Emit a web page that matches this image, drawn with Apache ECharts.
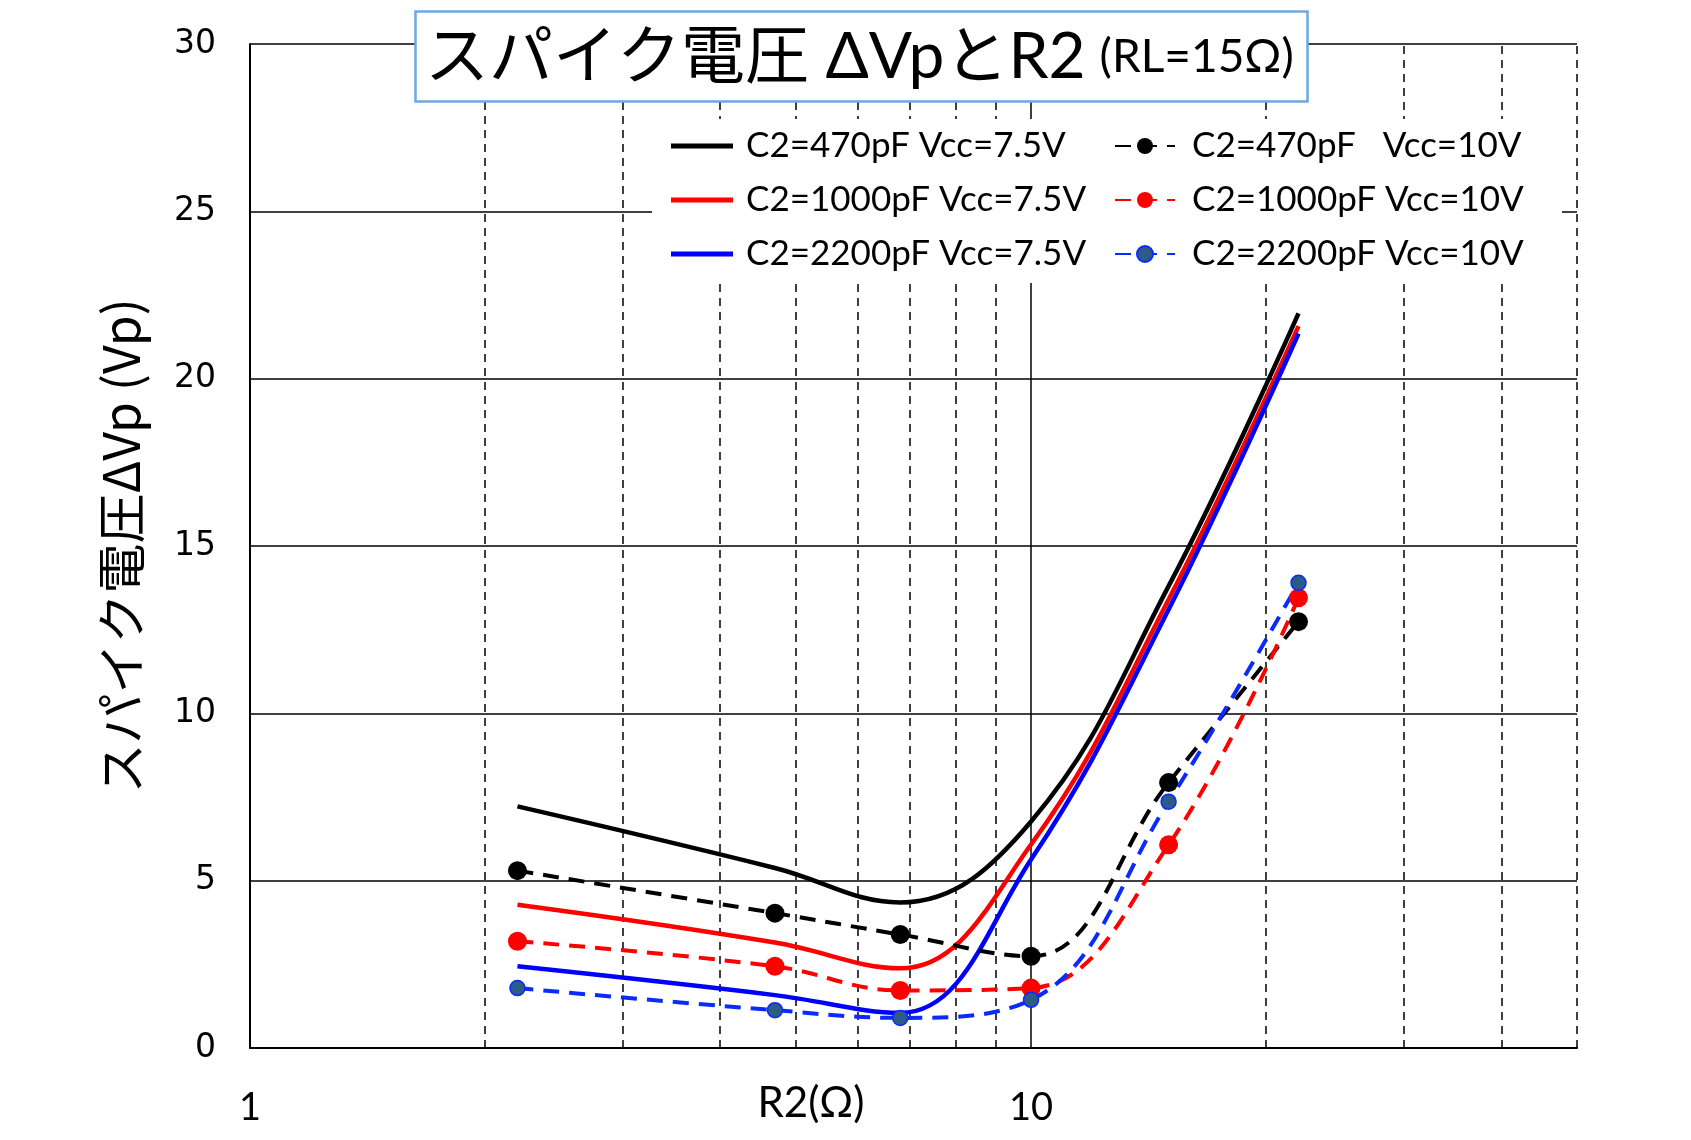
<!DOCTYPE html>
<html><head><meta charset="utf-8">
<script src="https://cdn.jsdelivr.net/npm/echarts@6/dist/echarts.min.js"></script>
<style>html,body{margin:0;padding:0;background:#fff}#c{width:1691px;height:1140px}</style>
</head><body><div id="c"></div>
<script>
// R2 values (Ω), log x axis
const r2Values = [2.2, 4.7, 6.8, 10, 15, 22];
// Spike voltage ΔVp (Vp)
const c470_v75  = [7.22, 5.38, 4.35, 6.77, 13.8, 21.95];
const c1000_v75 = [4.28, 3.15, 2.38, 6.08, 13.4, 21.57];
const c2200_v75 = [2.44, 1.58, 1.05, 5.63, 13.1, 21.35];
const c470_v10  = [5.30, 4.03, 3.39, 2.74, 7.93, 12.74];
const c1000_v10 = [3.19, 2.44, 1.72, 1.79, 6.07, 13.45];
const c2200_v10 = [1.79, 1.13, 0.90, 1.44, 7.36, 13.90];
const names = ['C2=470pF Vcc=7.5V','C2=1000pF Vcc=7.5V','C2=2200pF Vcc=7.5V',
               'C2=470pF   Vcc=10V','C2=1000pF Vcc=10V','C2=2200pF Vcc=10V'];
const xMinorGrid = [2,3,4,5,6,7,8,9,20,30,40,50];
const xMajorGrid = [10];
const xLabelTicks = [1, 10];

const LATIN = "Lato,'Noto Sans CJK JP',sans-serif";
const pts = arr => r2Values.map((x,i)=>[x, arr[i]]);

const solid = (name, arr, color) => ({
  name, type:'line', data: pts(arr), smooth: 0.4, symbol:'none', showSymbol:false,
  lineStyle:{color, width:4.5, type:'solid'}, itemStyle:{color}, z:3
});
const dashed = (name, arr, color, fill, size) => ({
  name, type:'line', data: pts(arr), smooth: 0.4, symbol:'circle', symbolSize: size,
  lineStyle:{color, width:4, type:[16,10]},
  itemStyle:{color: fill, borderColor: color, borderWidth: fill===color?0:1.5}, z:4
});

const series = [
  solid(names[0], c470_v75, '#000000'),
  solid(names[1], c1000_v75, '#ff0000'),
  solid(names[2], c2200_v75, '#0000ff'),
  dashed(names[3], c470_v10, '#000000', '#000000', 19),
  dashed(names[4], c1000_v10, '#ff0000', '#ff0000', 19),
  dashed(names[5], c2200_v10, '#0a2aff', '#2b5b86', 15)
];
series[0].markLine = {
  silent:true, symbol:['none','none'], label:{show:false}, z:1, animation:false,
  lineStyle:{color:'#000', width:1.5, type:[8,6]},
  data: xMinorGrid.map(v=>({xAxis:v})).concat(
        xMajorGrid.map(v=>({xAxis:v, lineStyle:{type:'solid', width:1.5, color:'#000'}})))
};

const lineIcon = 'path://M0,0H62V5H0Z';
const legendText = {fontFamily:LATIN, fontSize:35, color:'#000', lineHeight:44};

const chart = echarts.init(document.getElementById('c'));
chart.setOption({
  animation:false,
  backgroundColor:'#fff',
  title:{
    text:'{a|スパイク電圧 ΔVpとR2}{s| }{b|(RL=15Ω)}',
    left:415, top:11, padding:[14,14,13,10],
    backgroundColor:'#fff', borderColor:'#6fa8e0', borderWidth:2.5, z:8,
    textStyle:{fontWeight:'normal', rich:{
      a:{fontSize:64, fontFamily:LATIN, fontWeight:'normal', color:'#000'},
      s:{fontSize:46, fontFamily:LATIN, width:14},
      b:{fontSize:46, fontFamily:LATIN, fontWeight:'normal', color:'#000'}
    }}
  },
  legend:[
    {data:names.slice(0,3).map(n=>({name:n, icon:lineIcon})), orient:'vertical', left:671, top:124, padding:0,
     itemWidth:62, itemHeight:20, itemGap:10, z:10, selectedMode:false,
     textStyle:Object.assign({padding:[0,0,0,8]}, legendText)},
    {data:names.slice(3), orient:'vertical', left:1114, top:124, padding:0,
     itemWidth:60, itemHeight:20, itemGap:10, z:10, selectedMode:false,
     textStyle:Object.assign({padding:[0,0,0,12]}, legendText)}
  ],
  grid:{left:250, right:114, top:44, bottom:92, containLabel:false},
  xAxis:{
    type:'log', logBase:10, min:1, max:50,
    axisLine:{show:true, lineStyle:{color:'#000', width:2}},
    axisTick:{show:false}, splitLine:{show:false},
    axisLabel:{fontFamily:LATIN, fontSize:38, color:'#000', margin:41,
      formatter: v => xLabelTicks.some(t=>Math.abs(v-t)<1e-6) ? String(Math.round(v)) : ''}
  },
  yAxis:{
    type:'value', min:0, max:30, interval:5,
    name:'スパイク電圧ΔVp (Vp)', nameLocation:'middle', nameRotate:90, nameGap:104,
    nameTextStyle:{fontFamily:"'Noto Sans CJK JP',sans-serif", fontSize:50, color:'#000'},
    axisLine:{show:true, lineStyle:{color:'#000', width:2}},
    axisTick:{show:false},
    splitLine:{show:true, lineStyle:{color:'#000', width:1.5}},
    axisLabel:{fontFamily:"'DejaVu Sans',sans-serif", fontSize:33, color:'#000', margin:34}
  },
  graphic:[
    {type:'rect', shape:{x:652, y:119, width:910, height:164}, style:{fill:'#fff'}, z:5, silent:true},
    {type:'text', x:811, y:1103, z:5,
     style:{text:'R2(Ω)', font:"42px Lato,'Noto Sans CJK JP',sans-serif",
            fill:'#000', textAlign:'center', textVerticalAlign:'middle'}}
  ],
  series
});
</script></body></html>
